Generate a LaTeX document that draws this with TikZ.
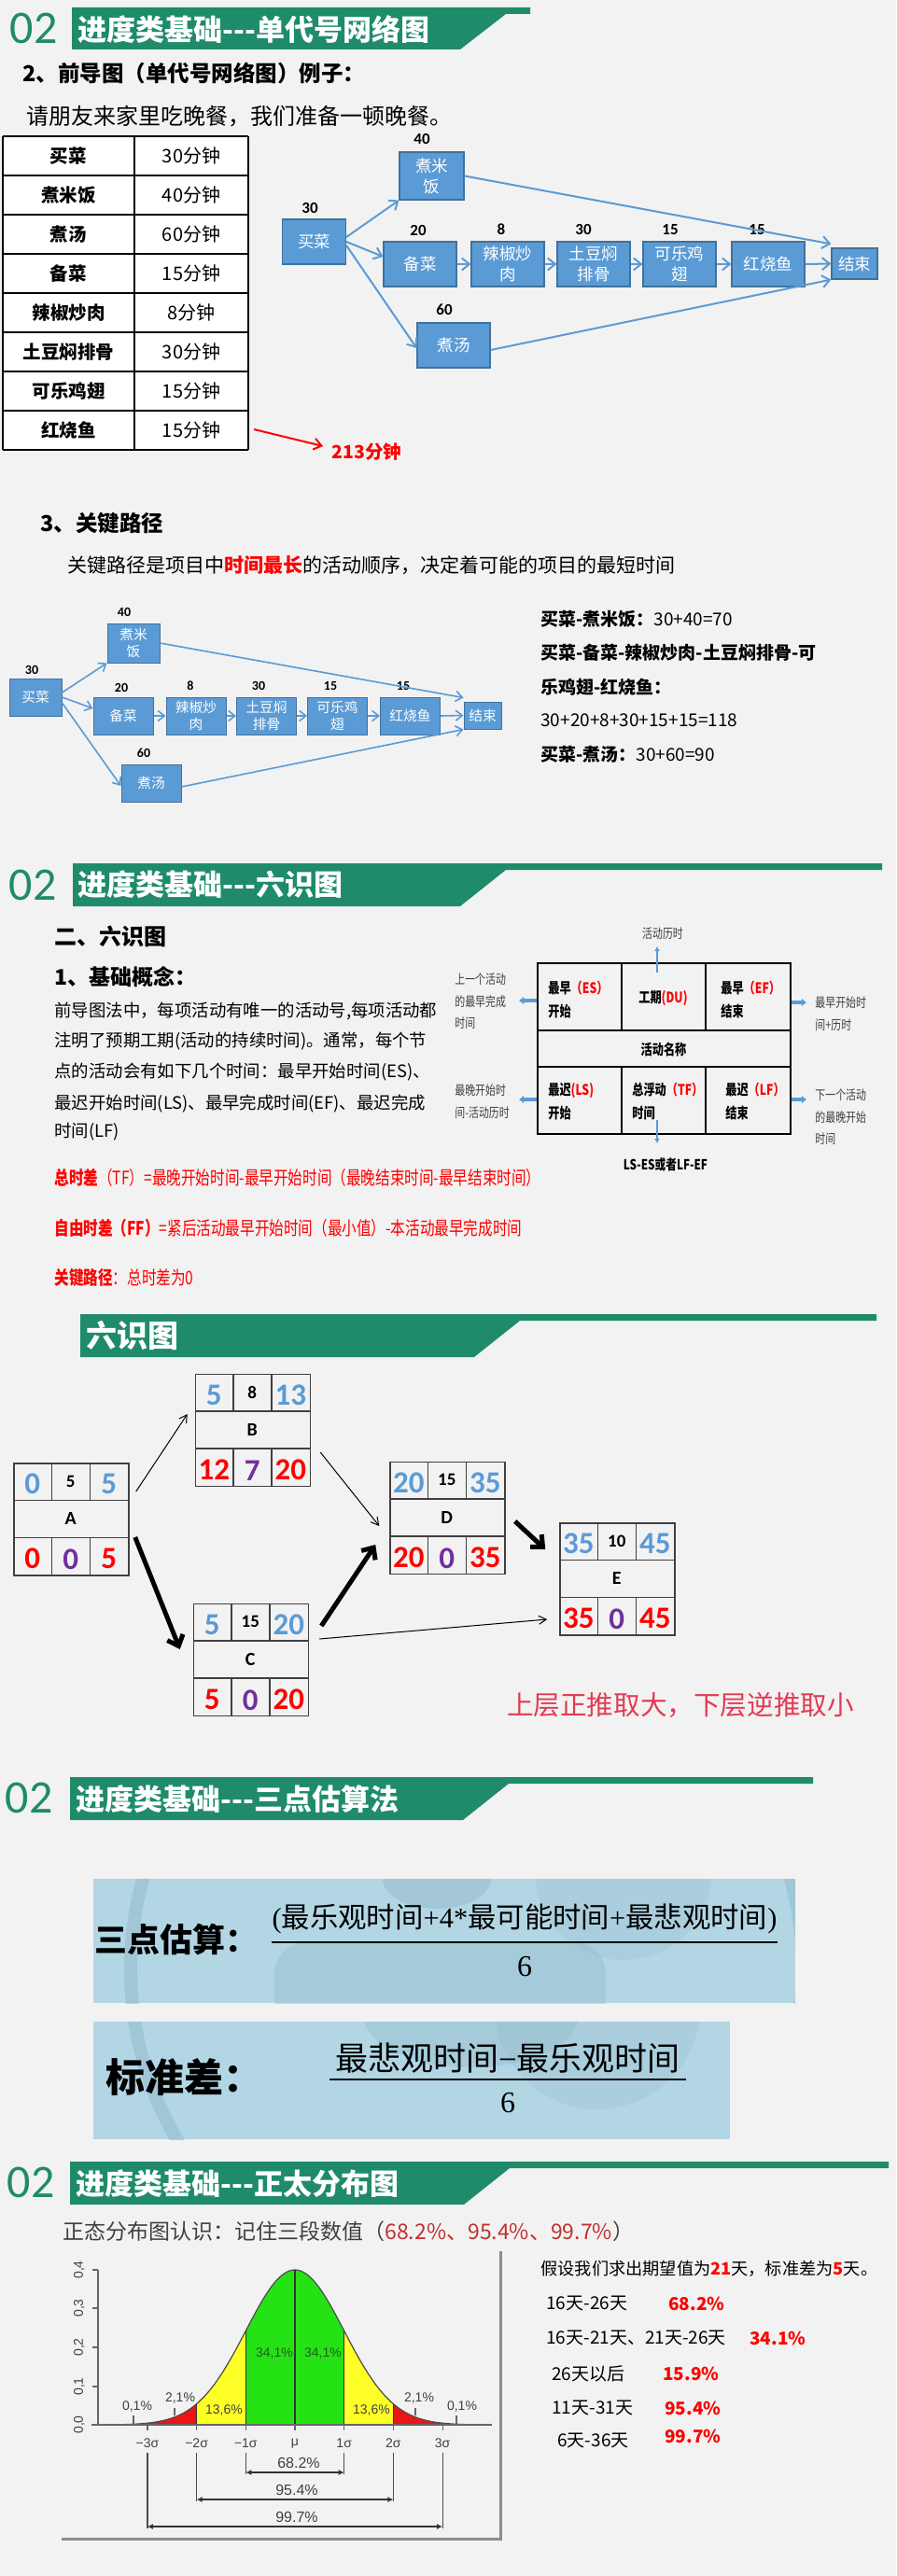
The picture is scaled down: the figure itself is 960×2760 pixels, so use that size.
\documentclass[tikz,border=0pt]{standalone}
\usepackage{fontspec}
\setmainfont{Noto Sans CJK SC}
\newfontfamily\cnd{Noto Sans CJK SC}[FakeStretch=0.78]
\newfontfamily\calib{Carlito}
\newfontfamily\lsans{Liberation Sans}
\newfontfamily\lserif{Liberation Serif}
\usetikzlibrary{arrows.meta,calc}

\definecolor{bg}{HTML}{F2F2F2}
\definecolor{hdr}{RGB}{31,139,107}
\definecolor{nbf}{HTML}{5B9BD5}
\definecolor{nbd}{HTML}{41719C}
\definecolor{sblue}{HTML}{5B9BD5}
\definecolor{spur}{HTML}{7030A0}
\definecolor{crim}{RGB}{226,58,82}
\definecolor{lb}{RGB}{179,214,229}
\definecolor{lbd}{RGB}{150,188,204}
\definecolor{dred}{RGB}{192,48,48}
\definecolor{ngreen}{RGB}{36,226,20}
\definecolor{nyel}{RGB}{255,255,40}
\definecolor{nred}{RGB}{236,20,20}
\definecolor{txg}{HTML}{404040}
\definecolor{sline}{HTML}{404040}
\definecolor{pgreen}{RGB}{40,90,30}

\newcommand\fsz[2]{\fontsize{#1}{#2}\selectfont}
\newcommand\tdash{{-}{-}{-}}
% green title band: left, top, right end of stripe, slant x, bottom
\newcommand\hdrband[5]{%
  \fill[hdr] (#1,#2) -- (#3,#2) -- (#3,#2+7) -- (#4,#2+7) -- (#4-49,#5) -- (#1,#5) -- cycle;}

% six-field activity box: name, centre, ES, DU, EF, label, LS, TF, LF
\newcommand\sixbox[9]{%
  \node[sixb] (#1) at #2 {};
  \draw[sixl] ($(#1.north west)+(0,40)$) -- ($(#1.north east)+(0,40)$);
  \draw[sixl] ($(#1.north west)+(0,80)$) -- ($(#1.north east)+(0,80)$);
  \draw[sixl] ($(#1.north west)+(41,0)$) -- ++(0,40);
  \draw[sixl] ($(#1.north west)+(82,0)$) -- ++(0,40);
  \draw[sixl] ($(#1.north west)+(41,80)$) -- ++(0,40);
  \draw[sixl] ($(#1.north west)+(82,80)$) -- ++(0,40);
  \node[bign, text=sblue] (#1a) at ($(#1.north west)+(20.5,23)$) {#3};
  \node[smn] (#1b) at ($(#1.north west)+(61.5,20)$) {#4};
  \node[bign, text=sblue] (#1c) at ($(#1.north west)+(102.5,23)$) {#5};
  \node[letn] (#1d) at ($(#1.north west)+(61.5,60)$) {#6};
  \node[bign, text=red] (#1e) at ($(#1.north west)+(20.5,103)$) {#7};
  \node[bign, text=spur] (#1f) at ($(#1.north west)+(61.5,104)$) {#8};
  \node[bign, text=red] (#1g) at ($(#1.north west)+(102.5,103)$) {#9};
}

\tikzset{
  htxt/.style={text=white, font=\bfseries\fsz{15.5}{18}, inner sep=0pt, anchor=west},
  num02/.style={text=hdr, font=\calib\fsz{25}{28}, inner sep=0pt},
  nb/.style={draw=nbd, fill=nbf, line width=0.6pt, text=white, align=center, inner sep=0pt, font=\fsz{8.75}{11}},
  nb2/.style={draw=nbd, fill=nbf, line width=0.5pt, text=white, align=center, inner sep=0pt, font=\fsz{7.35}{8.8}},
  nl/.style={font=\calib\bfseries\fsz{8.5}{10}, inner sep=0pt},
  nl2/.style={font=\calib\bfseries\fsz{7}{8}, inner sep=0pt},
  narr/.style={draw=nbf, line width=1pt, -{Straight Barb[length=4pt,width=6.5pt,line width=1pt]}},
  narr2/.style={draw=nbf, line width=0.8pt, -{Straight Barb[length=3.5pt,width=5.5pt,line width=0.8pt]}},
  cell/.style={font=\cnd\bfseries\fsz{7.8}{12.5}, align=left, inner sep=0pt},
  side/.style={font=\cnd\fsz{7}{11.75}, text=txg, align=left, inner sep=0pt},
  sarr/.style={draw=nbf, line width=2pt, -{Latex[length=2.5pt,width=4.5pt]}},
  tarr/.style={draw=nbf, line width=0.8pt, -{Latex[length=2.5pt,width=3pt]}},
  sixb/.style={draw=sline, line width=0.75pt, minimum width=61.5pt, minimum height=60pt, inner sep=0pt},
  sixl/.style={draw=sline, line width=0.75pt},
  bign/.style={font=\calib\bfseries\fsz{16.5}{18}, inner sep=0pt},
  smn/.style={font=\calib\bfseries\fsz{9.5}{11}, inner sep=0pt},
  letn/.style={font=\calib\bfseries\fsz{10}{12}, inner sep=0pt},
  thinarr/.style={draw=black, line width=0.5pt, -{Straight Barb[length=4pt,width=4.5pt,line width=0.5pt]}},
  thickarr/.style={draw=black, line width=2.5pt, -{Straight Barb[length=5pt,width=9pt,line width=2.5pt]}},
  rt/.style={font=\fsz{9.5}{11}, inner sep=0pt, anchor=west},
  rtr/.style={font=\bfseries\fsz{9.5}{11}, text=red, inner sep=0pt, anchor=west},
  chl/.style={font=\lsans\fsz{7}{8}, text=txg, inner sep=0pt},
}

\begin{document}
\begin{tikzpicture}[x=0.5pt,y=-0.5pt]
\fill[bg] (0,0) rectangle (960,2760);
\useasboundingbox (0,0) rectangle (960,2760);

%% ---------- section: single-code network ----------
\hdrband{77}{8}{568}{542}{53}
\node[num02] (n02a) at (36,30) {02};
\node[htxt] (h1) at (83,32) {进度类基础\tdash 单代号网络图};
\node[anchor=west, inner sep=0pt, font=\bfseries\fsz{11.75}{13}] (s1a) at (24,79) {2、前导图（单代号网络图）例子：};
\node[anchor=west, inner sep=0pt, font=\fsz{12}{14}] (s1b) at (28,125) {请朋友来家里吃晚餐，我们准备一顿晚餐。};

% duration table
\fill[white] (3,146) rectangle (266,482);
\foreach \k in {0,...,8} \draw[black, line width=1.2pt] (3,146+42*\k) -- (266,146+42*\k);
\foreach \xx in {3,144,266} \draw[black, line width=1pt] (\xx,146) -- (\xx,482);
\foreach \a/\b [count=\i] in {买菜/30分钟, 煮米饭/40分钟, 煮汤/60分钟, 备菜/15分钟, 辣椒炒肉/8分钟, 土豆焖排骨/30分钟, 可乐鸡翅/15分钟, 红烧鱼/15分钟}{
  \node[font=\bfseries\fsz{9.75}{11}, inner sep=0pt] (tl\i) at (73.5,125+42*\i) {\a};
  \node[font=\fsz{10}{11}, inner sep=0pt] (tr\i) at (205,125+42*\i) {\b};
}
\coordinate (r213) at (272,460);
\node[text=red, font=\bfseries\fsz{9.75}{11}, anchor=west, inner sep=0pt] (t213) at (355,484) {213分钟};
\draw[red, line width=1pt, -{Straight Barb[length=4pt,width=6pt,line width=1pt]}] (r213) -- ($(t213.west)+(-9,-6)$);

% network
\node[nb, minimum width=34pt, minimum height=24pt] (mc) at (336.5,259) {买菜};
\node[nb, minimum width=34.5pt, minimum height=25.5pt] (zm) at (462.5,188.5) {煮米\\饭};
\node[nb, minimum width=39pt, minimum height=24pt] (bc) at (450,283) {备菜};
\node[nb, minimum width=39pt, minimum height=24pt] (lj) at (544,283) {辣椒炒\\肉};
\node[nb, minimum width=39pt, minimum height=24pt] (td) at (636,283) {土豆焖\\排骨};
\node[nb, minimum width=39pt, minimum height=24pt] (kl) at (728,283) {可乐鸡\\翅};
\node[nb, minimum width=39pt, minimum height=24pt] (hs) at (823,283) {红烧鱼};
\node[nb, minimum width=24.5pt, minimum height=16.5pt] (js) at (915.5,282.5) {结束};
\node[nb, minimum width=39pt, minimum height=24pt] (zt) at (486,370) {煮汤};
\node[nl] (l1) at (332,223) {30};
\node[nl] (l2) at (452,149) {40};
\node[nl] (l3) at (448,247) {20};
\node[nl] (l4) at (537,246) {8};
\node[nl] (l5) at (625,246) {30};
\node[nl] (l6) at (718,246) {15};
\node[nl] (l7) at (811,246) {15};
\node[nl] (l8) at (476,332) {60};
\draw[narr] ([yshift=2.5pt]mc.east) -- (zm.south west);
\draw[narr] (mc.east) -- ([yshift=4pt]bc.west);
\draw[narr] ([yshift=-2pt]mc.east) -- ([yshift=-1.5pt]zt.west);
\draw[narr] (zm.east) -- ([yshift=2pt]js.north west);
\draw[narr] ([yshift=-2.5pt]zt.east) -- (js.south west);
\draw[narr] (bc) -- (lj);
\draw[narr] (lj) -- (td);
\draw[narr] (td) -- (kl);
\draw[narr] (kl) -- (hs);
\draw[narr] (hs.east) -- (js.west);

%% ---------- critical path ----------
\node[anchor=west, inner sep=0pt, font=\bfseries\fsz{11.75}{13}] (s2a) at (43,561) {3、关键路径};
\node[anchor=west, inner sep=0pt, font=\fsz{10.5}{12}] (s2b) at (72,606) {关键路径是项目中{\color{red}\bfseries 时间最长}的活动顺序，决定着可能的项目的最短时间};

\node[nb2, minimum width=28pt, minimum height=20pt] (mc2) at (38,747) {买菜};
\node[nb2, minimum width=28pt, minimum height=21pt] (zm2) at (143,689) {煮米\\饭};
\node[nb2, minimum width=32pt, minimum height=20pt] (bc2) at (132,767) {备菜};
\node[nb2, minimum width=32pt, minimum height=20pt] (lj2) at (210,767) {辣椒炒\\肉};
\node[nb2, minimum width=32pt, minimum height=20pt] (td2) at (285.5,767) {土豆焖\\排骨};
\node[nb2, minimum width=32pt, minimum height=20pt] (kl2) at (361.5,767) {可乐鸡\\翅};
\node[nb2, minimum width=32pt, minimum height=20pt] (hs2) at (439.5,767) {红烧鱼};
\node[nb2, minimum width=20pt, minimum height=14.5pt] (js2) at (517,766.5) {结束};
\node[nb2, minimum width=32pt, minimum height=20pt] (zt2) at (162,839) {煮汤};
\node[nl2] (m1) at (34,718) {30};
\node[nl2] (m2) at (133,656) {40};
\node[nl2] (m3) at (130,737) {20};
\node[nl2] (m4) at (204,735) {8};
\node[nl2] (m5) at (277,735) {30};
\node[nl2] (m6) at (354,735) {15};
\node[nl2] (m7) at (432,735) {15};
\node[nl2] (m8) at (154,807) {60};
\draw[narr2] ([yshift=2.5pt]mc2.east) -- (zm2.south west);
\draw[narr2] (mc2.east) -- ([yshift=4pt]bc2.west);
\draw[narr2] ([yshift=-3pt]mc2.east) -- ([yshift=-1.5pt]zt2.west);
\draw[narr2] (zm2.east) -- ([yshift=2pt]js2.north west);
\draw[narr2] ([yshift=-2pt]zt2.east) -- (js2.south west);
\draw[narr2] (bc2) -- (lj2);
\draw[narr2] (lj2) -- (td2);
\draw[narr2] (td2) -- (kl2);
\draw[narr2] (kl2) -- (hs2);
\draw[narr2] (hs2.east) -- (js2.west);

\node[rt] (q1) at (579,663) {{\bfseries 买菜-煮米饭：}30+40=70};
\node[rt] (q2) at (579,699) {{\bfseries 买菜-备菜-辣椒炒肉-土豆焖排骨-可}};
\node[rt] (q3) at (579,736) {{\bfseries 乐鸡翅-红烧鱼：}};
\node[rt] (q4) at (579,772) {30+20+8+30+15+15=118};
\node[rt] (q5) at (579,808) {{\bfseries 买菜-煮汤：}30+60=90};

%% ---------- six-field diagram: concepts ----------
\hdrband{78}{925}{945}{542}{971}
\node[num02] (n02b) at (35,948) {02};
\node[htxt] (h2) at (83,948) {进度类基础\tdash 六识图};
\node[anchor=west, inner sep=0pt, font=\bfseries\fsz{12}{14}] (s3a) at (58,1003) {二、六识图};
\node[anchor=west, inner sep=0pt, font=\bfseries\fsz{11.5}{14}] (s3b) at (58,1047) {1、基础概念：};
\node[anchor=west, inner sep=0pt, font=\fsz{9.2}{11}] (p1) at (58,1083) {前导图法中，每项活动有唯一的活动号,每项活动都};
\node[anchor=west, inner sep=0pt, font=\fsz{9.2}{11}] (p2) at (58,1116) {注明了预期工期(活动的持续时间)。通常，每个节};
\node[anchor=west, inner sep=0pt, font=\fsz{9.2}{11}] (p3) at (58,1149) {点的活动会有如下几个时间：最早开始时间(ES)、};
\node[anchor=west, inner sep=0pt, font=\fsz{9.2}{11}] (p4) at (58,1182) {最迟开始时间(LS)、最早完成时间(EF)、最迟完成};
\node[anchor=west, inner sep=0pt, font=\fsz{9.2}{11}] (p5) at (58,1213) {时间(LF)};
\node[anchor=west, inner sep=0pt, text=red, font=\cnd\fsz{10}{12}] (rl1) at (58,1262) {{\bfseries 总时差}（TF）=最晚开始时间-最早开始时间（最晚结束时间-最早结束时间）};
\node[anchor=west, inner sep=0pt, text=red, font=\cnd\fsz{10}{12}] (rl2) at (58,1316) {{\bfseries 自由时差（FF）}=紧后活动最早开始时间（最小值）-本活动最早完成时间};
\node[anchor=west, inner sep=0pt, text=red, font=\cnd\fsz{10}{12}] (rl3) at (58,1369) {{\bfseries 关键路径}：总时差为0};

% legend box
\node[draw=black, line width=0.9pt, minimum width=135.5pt, minimum height=91.5pt, inner sep=0pt] (lg) at (711.5,1123.5) {};
\draw[black, line width=1.1pt] (lg.west |- 0,1104) -- (lg.east |- 0,1104);
\draw[black, line width=1.1pt] (lg.west |- 0,1143) -- (lg.east |- 0,1143);
\draw[black, line width=0.8pt] (666,1032) -- (666,1104);
\draw[black, line width=0.8pt] (756,1032) -- (756,1104);
\draw[black, line width=0.8pt] (666,1143) -- (666,1215);
\draw[black, line width=0.8pt] (756,1143) -- (756,1215);
\node[cell, anchor=west] (c1) at (587,1071) {最早{\color{red}（ES）}\\开始};
\node[cell] (c2) at (710.5,1070) {工期{\color{red}(DU)}};
\node[cell, anchor=west] (c3) at (772,1071) {最早{\color{red}（EF）}\\结束};
\node[cell] (c4) at (711,1125) {活动名称};
\node[cell, anchor=west] (c5) at (587,1180) {最迟{\color{red}(LS)}\\开始};
\node[cell, anchor=west] (c6) at (677,1180) {总浮动{\color{red}（TF）}\\时间};
\node[cell, anchor=west] (c7) at (777,1180) {最迟{\color{red}（LF）}\\结束};

\node[side] (sd0) at (710,1000) {活动历时};
\node[side, anchor=west] (sd1) at (487,1073) {上一个活动\\的最早完成\\时间};
\node[side, anchor=west] (sd2) at (873,1086) {最早开始时\\间+历时};
\node[side, anchor=west] (sd3) at (487,1180) {最晚开始时\\间-活动历时};
\node[side, anchor=west] (sd4) at (873,1197) {下一个活动\\的最晚开始\\时间};
\node[font=\cnd\bfseries\fsz{7.5}{9}, inner sep=0pt] (sd5) at (713,1248) {LS-ES或者LF-EF};

\coordinate (aUs) at (704,1042);
\coordinate (aUe) at (704,1014);
\draw[tarr] (aUs) -- (aUe);
\coordinate (aDs) at (704,1200);
\coordinate (aDe) at (704,1225);
\draw[tarr] (aDs) -- (aDe);
\coordinate (aL1) at (556,1072);
\coordinate (aR1) at (864,1074);
\coordinate (aL2) at (556,1178);
\coordinate (aR2) at (864,1178);
\draw[sarr] (lg.west |- aL1) -- (aL1);
\draw[sarr] (lg.east |- aR1) -- (aR1);
\draw[sarr] (lg.west |- aL2) -- (aL2);
\draw[sarr] (lg.east |- aR2) -- (aR2);

%% ---------- six-field example ----------
\hdrband{86}{1408}{939}{557}{1454}
\node[htxt, font=\bfseries\fsz{16.5}{18}] (h3) at (92,1431) {六识图};

\sixbox{A}{(76.5,1628)}{0}{5}{5}{A}{0}{0}{5}
\sixbox{B}{(271,1532.5)}{5}{8}{13}{B}{12}{7}{20}
\sixbox{C}{(269,1778.5)}{5}{15}{20}{C}{5}{0}{20}
\sixbox{D}{(479.5,1626.5)}{20}{15}{35}{D}{20}{0}{35}
\sixbox{E}{(661.5,1692)}{35}{10}{45}{E}{35}{0}{45}

\draw[thinarr] ($(A.east)+(7,-30)$) -- ($(B.west)+(-8,-17.5)$);
\draw[thickarr] ($(A.east)+(6,19)$) -- ($(C.west)+(-14,-11.5)$);
\draw[thinarr] ($(B.east)+(10,23.5)$) -- ($(D.west)+(-11,8.5)$);
\draw[thickarr] ($(C.east)+(13,-36.5)$) -- ($(D.west)+(-15,28.5)$);
\draw[thinarr] ($(C.east)+(11,-22.5)$) -- ($(E.west)+(-13,43)$);
\draw[thickarr] ($(D.east)+(10,3.5)$) -- ($(E.west)+(-15,-32)$);

\node[text=crim, font=\fsz{14.3}{16}, inner sep=0pt] (rule) at (729,1827) {上层正推取大，下层逆推取小};

%% ---------- three-point estimate ----------
\hdrband{75}{1904}{871}{545}{1950}
\node[num02] (n02c) at (31,1926) {02};
\node[htxt] (h4) at (81,1928) {进度类基础\tdash 三点估算法};

\begin{scope}
  \clip (100,2013) rectangle (852,2146);
  \fill[lb] (100,2013) rectangle (852,2146);
  \draw[lbd, opacity=0.6, line width=7pt] (500,2110) circle [radius=360];
  \fill[lbd, opacity=0.45, rounded corners=18pt] (294,2080) rectangle (649,2200);
  \fill[lbd, opacity=0.55] (468,2013) ellipse [x radius=58, y radius=32];
  \fill[lbd, opacity=0.3] (668,2005) circle [radius=95];
\end{scope}
\begin{scope}
  \clip (100,2166) rectangle (782,2292);
  \fill[lb] (100,2166) rectangle (782,2292);
  \draw[lbd, opacity=0.6, line width=7pt] (500,2110) circle [radius=360];
  \fill[lbd, opacity=0.45] (505,2160) ellipse [x radius=115, y radius=55];
  \fill[lbd, opacity=0.3] (640,2150) circle [radius=110];
\end{scope}

\node[anchor=west, inner sep=0pt, font=\bfseries\fsz{17.5}{20}] (f1a) at (101,2078) {三点估算：};
\node[inner sep=0pt, font=\fsz{15.2}{17}] (f1n) at (562,2056) {{\lserif (}最乐观时间{\lserif +4*}最可能时间{\lserif +}最悲观时间{\lserif )}};
\draw[black, line width=1pt] (f1n.south west |- 0,2081) -- (f1n.south east |- 0,2081);
\node[inner sep=0pt, font=\lserif\fsz{16}{18}] (f1d) at (562,2107) {6};

\node[anchor=west, inner sep=0pt, font=\bfseries\fsz{21}{24}] (f2a) at (113,2226) {标准差：};
\node[inner sep=0pt, font=\fsz{17.5}{20}] (f2n) at (544,2205) {最悲观时间{\lserif −}最乐观时间};
\draw[black, line width=1pt] (353,2228) -- (735,2228);
\node[inner sep=0pt, font=\lserif\fsz{16}{18}] (f2d) at (544,2253) {6};

%% ---------- normal distribution ----------
\hdrband{75}{2316}{952}{546}{2362}
\node[num02] (n02d) at (33,2338) {02};
\node[htxt] (h5) at (81,2340) {进度类基础\tdash 正太分布图};
\node[anchor=west, inner sep=0pt, text=txg, font=\fsz{11.5}{13}] (s6a) at (67,2391) {正态分布图认识：记住三段数值（{\color{dred}68.2\%、95.4\%、99.7\%}）};

% bell curve areas
\fill[nred] (126.3,2598) -- plot[domain=-3.6:-2, samples=40] ({316+52.7*\x},{2598-166*exp(-0.5*(\x)*(\x))}) -- (210.6,2598) -- cycle;
\fill[nyel] (210.6,2598) -- plot[domain=-2:-1, samples=30] ({316+52.7*\x},{2598-166*exp(-0.5*(\x)*(\x))}) -- (263.3,2598) -- cycle;
\fill[ngreen] (263.3,2598) -- plot[domain=-1:1, samples=50] ({316+52.7*\x},{2598-166*exp(-0.5*(\x)*(\x))}) -- (368.7,2598) -- cycle;
\fill[nyel] (368.7,2598) -- plot[domain=1:2, samples=30] ({316+52.7*\x},{2598-166*exp(-0.5*(\x)*(\x))}) -- (421.4,2598) -- cycle;
\fill[nred] (421.4,2598) -- plot[domain=2:3.6, samples=40] ({316+52.7*\x},{2598-166*exp(-0.5*(\x)*(\x))}) -- (505.7,2598) -- cycle;
\draw[black!70, line width=0.6pt] plot[domain=-3.6:3.6, samples=150] ({316+52.7*\x},{2598-166*exp(-0.5*(\x)*(\x))});
\draw[black!80, line width=0.6pt] (316,2598) -- (316,2432);
\draw[black!80, line width=0.6pt] (263.3,2598) -- (263.3,2497.3);
\draw[black!80, line width=0.6pt] (368.7,2598) -- (368.7,2497.3);
\draw[black!80, line width=0.6pt] (210.6,2598) -- (210.6,2575.5);
\draw[black!80, line width=0.6pt] (421.4,2598) -- (421.4,2575.5);

% axes
\draw[black!60, line width=0.7pt] (98,2598) -- (527,2598);
\draw[black!60, line width=0.7pt] (105,2432) -- (105,2598);
\foreach \yy in {2598, 2557, 2515, 2473, 2432}{
  \draw[black!60, line width=0.6pt] (99,\yy) -- (105,\yy);
}
\node[chl, rotate=90] (y0) at (85,2598) {0,0};
\node[chl, rotate=90] (y1) at (85,2557) {0,1};
\node[chl, rotate=90] (y2) at (85,2515) {0,2};
\node[chl, rotate=90] (y3) at (85,2473) {0,3};
\node[chl, rotate=90] (y4) at (85,2432) {0,4};

\node[chl, text=pgreen] (g1) at (294,2521) {34,1\%};
\node[chl, text=pgreen] (g2) at (346,2521) {34,1\%};
\node[chl, text=black!75] (g3) at (240,2582) {13,6\%};
\node[chl, text=black!75] (g4) at (398,2582) {13,6\%};
\node[chl] (g5) at (193,2569) {2,1\%};
\node[chl] (g6) at (449,2569) {2,1\%};
\node[chl] (g7) at (147,2578) {0,1\%};
\node[chl] (g8) at (495,2578) {0,1\%};
\draw[black!60, line width=0.6pt] (143,2588) -- (143,2598);
\draw[black!60, line width=0.6pt] (489,2588) -- (489,2598);
\draw[black!60, line width=0.6pt] (187,2580) -- (187,2588);
\draw[black!60, line width=0.6pt] (445,2580) -- (445,2588);

\foreach \s/\lab [count=\i] in {-3/{−3σ}, -2/{−2σ}, -1/{−1σ}, 0/{μ}, 1/{1σ}, 2/{2σ}, 3/{3σ}}{
  \draw[black!60, line width=0.6pt] ({316+52.7*\s},2598) -- ({316+52.7*\s},2604);
  \node[chl] (sx\i) at ({316+52.7*\s},2618) {\lab};
}
\foreach \s/\yy in {1/2649, 2/2678, 3/2707}{
  \draw[black!70, line width=0.6pt] ({316-52.7*\s},2628) -- ({316-52.7*\s},\yy+2);
  \draw[black!70, line width=0.6pt] ({316+52.7*\s},2628) -- ({316+52.7*\s},\yy+2);
  \draw[black!80, line width=1.2pt, {Latex[length=3pt,width=3pt]}-{Latex[length=3pt,width=3pt]}] ({316-52.7*\s},\yy) -- ({316+52.7*\s},\yy);
}
\node[chl, font=\lsans\fsz{8}{9}] (b1) at (320,2639) {68.2\%};
\node[chl, font=\lsans\fsz{8}{9}] (b2) at (318,2668) {95.4\%};
\node[chl, font=\lsans\fsz{8}{9}] (b3) at (318,2697) {99.7\%};
\draw[black!45, line width=1.5pt] (536,2412) -- (536,2720) -- (66,2720);

% worked example
\node[rt, font=\fsz{9.1}{11}] (e1) at (579,2431) {假设我们求出期望值为{\color{red}\bfseries 21}天，标准差为{\color{red}\bfseries 5}天。};
\node[rt] (e2) at (585,2468) {16天-26天};
\node[rtr] (e2r) at (716,2468) {68.2\%};
\node[rt] (e3) at (585,2505) {16天-21天、21天-26天};
\node[rtr] (e3r) at (803,2505) {34.1\%};
\node[rt] (e4) at (591,2543) {26天以后};
\node[rtr] (e4r) at (710,2543) {15.9\%};
\node[rt] (e5) at (591,2580) {11天-31天};
\node[rtr] (e5r) at (712,2580) {95.4\%};
\node[rt] (e6) at (597,2615) {6天-36天};
\node[rtr] (e6r) at (712,2610) {99.7\%};
\end{tikzpicture}
\end{document}
